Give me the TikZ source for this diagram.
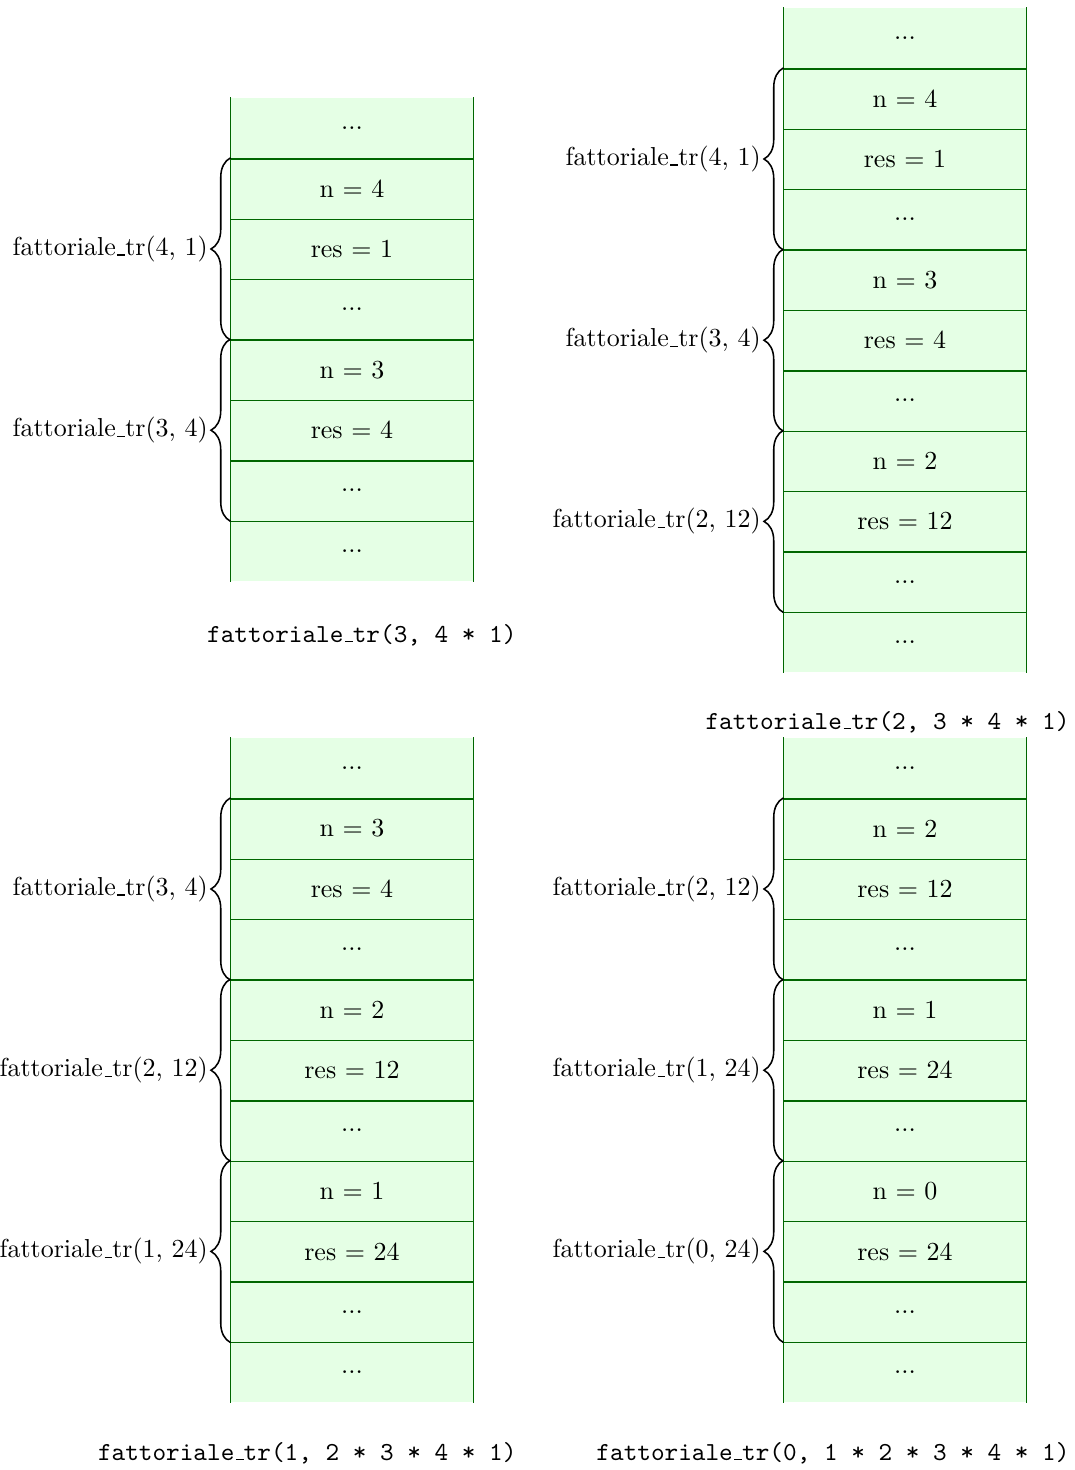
\documentclass[tikz,border=0pt]{standalone}
\usepackage{tikz}
\usetikzlibrary{decorations.pathreplacing}
\newcommand{\usc}{\leavevmode\kern.06em\vbox{\hrule width.3em}}

\begin{document}
\begin{tikzpicture}[x=0.385pt,y=0.385pt,yscale=-1,xscale=1,
    cella/.style={fill=green!10, minimum width=93.17pt, minimum height=23.26pt, inner sep=0pt},
    linea/.style={color=green!40!black, line width=0.5pt},
    graffa/.style={decorate, decoration={brace, amplitude=7.5pt}, line width=0.6pt},
    etichetta/.style={midway, anchor=east, xshift=-7.5pt, inner sep=1pt},
    didascalia/.style={anchor=base east, inner sep=0pt, font=\ttfamily}]
    \useasboundingbox (0,0) rectangle (1075,1470);

    % Stack top left
    \draw (352,128.2) node (a1) [cella] {...};
    \draw (352,188.6) node (a2) [cella] {n = 4};
    \draw (352,249.0) node (a3) [cella] {res = 1};
    \draw (352,309.4) node (a4) [cella] {...};
    \draw (352,369.8) node (a5) [cella] {n = 3};
    \draw (352,430.2) node (a6) [cella] {res = 4};
    \draw (352,490.6) node (a7) [cella] {...};
    \draw (352,551.0) node (a8) [cella] {...};
    %Straight Lines
    \draw [linea] (a1.north west) -- (a8.south west) (a1.north east) -- (a8.south east);
    \draw [linea] (a1.south west) -- (a1.south east) (a2.south west) -- (a2.south east) (a3.south west) -- (a3.south east) (a4.south west) -- (a4.south east)
        (a5.south west) -- (a5.south east) (a6.south west) -- (a6.south east) (a7.south west) -- (a7.south east);
    %Braces
    \draw [graffa] (a4.south west) -- (a2.north west) node [etichetta] {fattoriale\usc tr(4, 1)};
    \draw [graffa] (a7.south west) -- (a5.north west) node [etichetta] {fattoriale\usc tr(3, 4)};
    % Text Node
    \draw (517,642) node (ta) [didascalia] {fattoriale\usc tr(3, 4 * 1)};

    % Stack top right
    \draw (905,38.2) node (b1) [cella] {...};
    \draw (905,98.6) node (b2) [cella] {n = 4};
    \draw (905,159.0) node (b3) [cella] {res = 1};
    \draw (905,219.4) node (b4) [cella] {...};
    \draw (905,279.8) node (b5) [cella] {n = 3};
    \draw (905,340.2) node (b6) [cella] {res = 4};
    \draw (905,400.6) node (b7) [cella] {...};
    \draw (905,461.0) node (b8) [cella] {n = 2};
    \draw (905,521.4) node (b9) [cella] {res = 12};
    \draw (905,581.8) node (b10) [cella] {...};
    \draw (905,642.2) node (b11) [cella] {...};
    %Straight Lines
    \draw [linea] (b1.north west) -- (b11.south west) (b1.north east) -- (b11.south east);
    \draw [linea] (b1.south west) -- (b1.south east) (b2.south west) -- (b2.south east) (b3.south west) -- (b3.south east) (b4.south west) -- (b4.south east)
        (b5.south west) -- (b5.south east) (b6.south west) -- (b6.south east) (b7.south west) -- (b7.south east) (b8.south west) -- (b8.south east)
        (b9.south west) -- (b9.south east) (b10.south west) -- (b10.south east);
    %Braces
    \draw [graffa] (b4.south west) -- (b2.north west) node [etichetta] {fattoriale\usc tr(4, 1)};
    \draw [graffa] (b7.south west) -- (b5.north west) node [etichetta] {fattoriale\usc tr(3, 4)};
    \draw [graffa] (b10.south west) -- (b8.north west) node [etichetta] {fattoriale\usc tr(2, 12)};
    % Text Node
    \draw (1070,729) node (tb) [didascalia] {fattoriale\usc tr(2, 3 * 4 * 1)};

    % Stack bottom left
    \draw (352,768.2) node (c1) [cella] {...};
    \draw (352,828.6) node (c2) [cella] {n = 3};
    \draw (352,889.0) node (c3) [cella] {res = 4};
    \draw (352,949.4) node (c4) [cella] {...};
    \draw (352,1009.8) node (c5) [cella] {n = 2};
    \draw (352,1070.2) node (c6) [cella] {res = 12};
    \draw (352,1130.6) node (c7) [cella] {...};
    \draw (352,1191.0) node (c8) [cella] {n = 1};
    \draw (352,1251.4) node (c9) [cella] {res = 24};
    \draw (352,1311.8) node (c10) [cella] {...};
    \draw (352,1372.2) node (c11) [cella] {...};
    %Straight Lines
    \draw [linea] (c1.north west) -- (c11.south west) (c1.north east) -- (c11.south east);
    \draw [linea] (c1.south west) -- (c1.south east) (c2.south west) -- (c2.south east) (c3.south west) -- (c3.south east) (c4.south west) -- (c4.south east)
        (c5.south west) -- (c5.south east) (c6.south west) -- (c6.south east) (c7.south west) -- (c7.south east) (c8.south west) -- (c8.south east)
        (c9.south west) -- (c9.south east) (c10.south west) -- (c10.south east);
    %Braces
    \draw [graffa] (c4.south west) -- (c2.north west) node [etichetta] {fattoriale\usc tr(3, 4)};
    \draw [graffa] (c7.south west) -- (c5.north west) node [etichetta] {fattoriale\usc tr(2, 12)};
    \draw [graffa] (c10.south west) -- (c8.north west) node [etichetta] {fattoriale\usc tr(1, 24)};
    % Text Node
    \draw (517,1460) node (tc) [didascalia] {fattoriale\usc tr(1, 2 * 3 * 4 * 1)};

    % Stack bottom right
    \draw (905,768.2) node (d1) [cella] {...};
    \draw (905,828.6) node (d2) [cella] {n = 2};
    \draw (905,889.0) node (d3) [cella] {res = 12};
    \draw (905,949.4) node (d4) [cella] {...};
    \draw (905,1009.8) node (d5) [cella] {n = 1};
    \draw (905,1070.2) node (d6) [cella] {res = 24};
    \draw (905,1130.6) node (d7) [cella] {...};
    \draw (905,1191.0) node (d8) [cella] {n = 0};
    \draw (905,1251.4) node (d9) [cella] {res = 24};
    \draw (905,1311.8) node (d10) [cella] {...};
    \draw (905,1372.2) node (d11) [cella] {...};
    %Straight Lines
    \draw [linea] (d1.north west) -- (d11.south west) (d1.north east) -- (d11.south east);
    \draw [linea] (d1.south west) -- (d1.south east) (d2.south west) -- (d2.south east) (d3.south west) -- (d3.south east) (d4.south west) -- (d4.south east)
        (d5.south west) -- (d5.south east) (d6.south west) -- (d6.south east) (d7.south west) -- (d7.south east) (d8.south west) -- (d8.south east)
        (d9.south west) -- (d9.south east) (d10.south west) -- (d10.south east);
    %Braces
    \draw [graffa] (d4.south west) -- (d2.north west) node [etichetta] {fattoriale\usc tr(2, 12)};
    \draw [graffa] (d7.south west) -- (d5.north west) node [etichetta] {fattoriale\usc tr(1, 24)};
    \draw [graffa] (d10.south west) -- (d8.north west) node [etichetta] {fattoriale\usc tr(0, 24)};
    % Text Node
    \draw (1070,1460) node (td) [didascalia] {fattoriale\usc tr(0, 1 * 2 * 3 * 4 * 1)};
\end{tikzpicture}
\end{document}
